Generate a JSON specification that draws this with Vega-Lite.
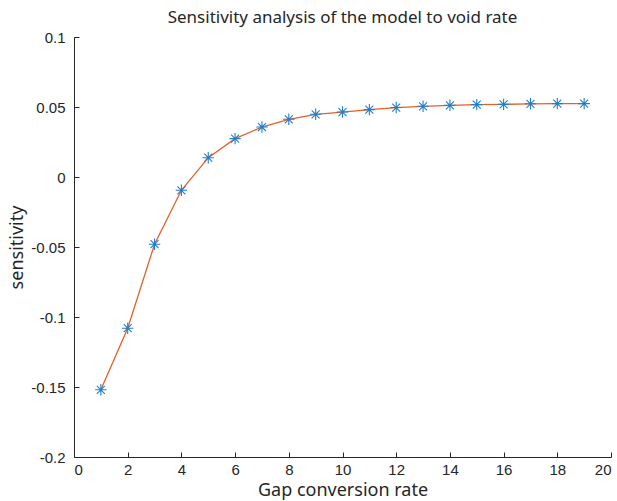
{
  "$schema": "https://vega.github.io/schema/vega-lite/v6.json",
  "width": 537,
  "height": 420,
  "autosize": {"type": "none"},
  "padding": {"left": 74, "top": 37, "right": 6, "bottom": 44},
  "background": "white",
  "config": {
    "view": {"stroke": null},
    "axis": {
      "domainColor": "#262626",
      "tickColor": "#262626",
      "labelColor": "#262626",
      "titleColor": "#262626",
      "labelFont": "Liberation Sans",
      "labelFontSize": 15,
      "titleFont": "Noto Sans",
      "titleFontSize": 18,
      "titleFontWeight": "normal",
      "grid": false,
      "tickSize": -5,
      "domainWidth": 1,
      "tickWidth": 1
    }
  },
  "title": {
    "text": "Sensitivity analysis of the model to void rate",
    "font": "Noto Sans",
    "fontSize": 17,
    "fontWeight": "normal",
    "color": "#262626",
    "anchor": "middle",
    "offset": 3
  },
  "data": {
    "values": [
      {"x": 1, "y": -0.152},
      {"x": 2, "y": -0.108},
      {"x": 3, "y": -0.048},
      {"x": 4, "y": -0.0095},
      {"x": 5, "y": 0.0138},
      {"x": 6, "y": 0.0274},
      {"x": 7, "y": 0.0357},
      {"x": 8, "y": 0.0412},
      {"x": 9, "y": 0.0448},
      {"x": 10, "y": 0.0464},
      {"x": 11, "y": 0.0481},
      {"x": 12, "y": 0.0496},
      {"x": 13, "y": 0.0505},
      {"x": 14, "y": 0.0512},
      {"x": 15, "y": 0.0517},
      {"x": 16, "y": 0.0519},
      {"x": 17, "y": 0.0523},
      {"x": 18, "y": 0.0524},
      {"x": 19, "y": 0.0524}
    ]
  },
  "encoding": {
    "x": {
      "field": "x",
      "type": "quantitative",
      "scale": {"domain": [0, 20], "nice": false, "zero": false},
      "axis": {
        "title": "Gap conversion rate",
        "values": [0, 2, 4, 6, 8, 10, 12, 14, 16, 18, 20],
        "labelPadding": 10,
        "titlePadding": 4
      }
    },
    "y": {
      "field": "y",
      "type": "quantitative",
      "scale": {"domain": [-0.2, 0.1], "nice": false, "zero": false},
      "axis": {
        "title": "sensitivity",
        "values": [-0.2, -0.15, -0.1, -0.05, 0, 0.05, 0.1],
        "labelExpr": "replace(format(datum.value, '~g'), '\u2212', '-')",
        "labelPadding": 14,
        "titlePadding": 4
      }
    }
  },
  "layer": [
    {
      "mark": {"type": "line", "color": "#E0622A", "strokeWidth": 1.3}
    },
    {
      "mark": {
        "type": "point",
        "shape": "M-1,0L1,0M0,-1L0,1M-0.7,-0.7L0.7,0.7M-0.7,0.7L0.7,-0.7",
        "filled": false,
        "color": "#1F7FCB",
        "strokeWidth": 1.1,
        "size": 130,
        "opacity": 1
      }
    }
  ]
}
